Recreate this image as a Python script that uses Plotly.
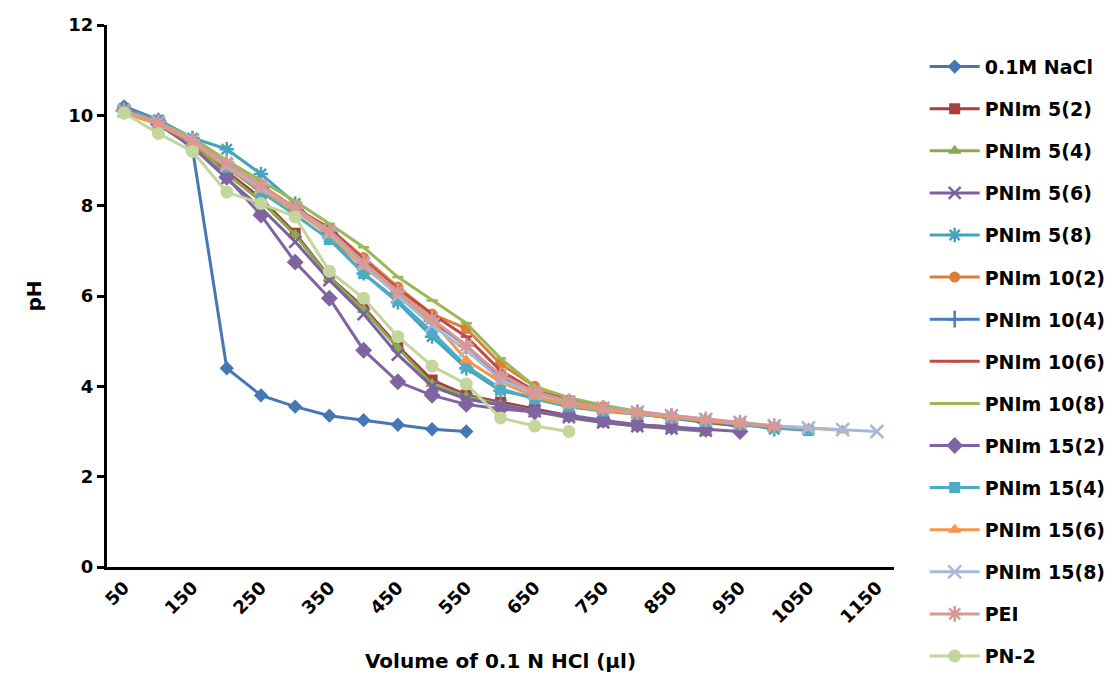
import plotly.graph_objects as go

categories = list(range(50, 1151, 50))
x_tick_labels = ["50", "150", "250", "350", "450", "550", "650", "750", "850", "950", "1050", "1150"]
x_tick_vals = [50, 150, 250, 350, 450, 550, 650, 750, 850, 950, 1050, 1150]

nacl = [10.2, 9.9, 9.25, 4.4, 3.8, 3.55, 3.35, 3.25, 3.15, 3.05, 3.0]
pnim_5_2 = [10.1, 9.85, 9.35, 8.75, 8.16, 7.39, 6.42, 5.75, 4.89, 4.14, 3.81, 3.65, 3.5, 3.35, 3.22, 3.15, 3.1, 3.03]
pnim_5_4 = [10.15, 9.85, 9.4, 8.7, 8.1, 7.35, 6.4, 5.7, 4.85, 4.05, 3.78, 3.6, 3.45, 3.3, 3.2, 3.12, 3.06, 3.0]
pnim_5_6 = [10.1, 9.8, 9.3, 8.6, 7.95, 7.2, 6.35, 5.6, 4.7, 4.0, 3.72, 3.58, 3.45, 3.32, 3.2, 3.12, 3.07, 3.02]
pnim_5_8 = [10.15, 9.9, 9.5, 9.25, 8.7, 8.05, 7.3, 6.5, 5.86, 5.1, 4.4, 3.9, 3.75, 3.6, 3.5, 3.42, 3.35, 3.25, 3.18, 3.05]
pnim_10_2 = [10.1, 9.85, 9.45, 8.9, 8.45, 7.95, 7.5, 6.85, 6.2, 5.6, 5.28, 4.5, 4.0, 3.7, 3.55, 3.42, 3.32, 3.22, 3.12]
pnim_10_4 = [10.1, 9.85, 9.45, 8.9, 8.4, 7.9, 7.4, 6.7, 6.05, 5.45, 4.9, 4.2, 3.85, 3.65, 3.5, 3.4, 3.3, 3.2, 3.12]
pnim_10_6 = [10.1, 9.85, 9.45, 8.95, 8.45, 7.95, 7.5, 6.8, 6.15, 5.6, 5.1, 4.35, 3.9, 3.7, 3.55, 3.42, 3.32, 3.22, 3.12]
pnim_10_8 = [10.1, 9.85, 9.5, 9.0, 8.55, 8.1, 7.6, 7.08, 6.42, 5.9, 5.4, 4.62, 4.0, 3.75, 3.58, 3.45, 3.35, 3.25, 3.15]
pnim_15_2 = [10.1, 9.8, 9.3, 8.63, 7.79, 6.75, 5.95, 4.8, 4.1, 3.8, 3.6, 3.5, 3.43, 3.36, 3.25, 3.15, 3.1, 3.05, 3.0]
pnim_15_4 = [10.1, 9.85, 9.4, 8.85, 8.3, 7.8, 7.25, 6.5, 5.9, 5.2, 4.45, 3.95, 3.72, 3.55, 3.45, 3.38, 3.3, 3.22, 3.15, 3.08, 3.02]
pnim_15_6 = [10.05, 9.8, 9.4, 8.85, 8.35, 7.9, 7.35, 6.64, 6.06, 5.46, 4.58, 4.1, 3.77, 3.58, 3.47, 3.4, 3.32, 3.24, 3.17, 3.12, 3.07, 3.03]
pnim_15_8 = [10.1, 9.85, 9.45, 8.9, 8.4, 7.95, 7.4, 6.7, 6.0, 5.35, 4.8, 4.15, 3.85, 3.65, 3.52, 3.43, 3.35, 3.27, 3.2, 3.13, 3.08, 3.04, 3.0]
pei = [10.1, 9.85, 9.45, 8.95, 8.45, 7.95, 7.45, 6.75, 6.1, 5.5, 4.9, 4.25, 3.88, 3.67, 3.52, 3.43, 3.35, 3.27, 3.2, 3.12]
pn_2 = [10.05, 9.6, 9.2, 8.3, 8.05, 7.75, 6.55, 5.95, 5.1, 4.45, 4.05, 3.3, 3.12, 3.0]

series = [
    ("0.1M NaCl", nacl, "#4677B4", "diamond", 11),
    ("PNIm 5(2)", pnim_5_2, "#A5403D", "square", 11),
    ("PNIm 5(4)", pnim_5_4, "#8BAA4E", "triangle-up", 12),
    ("PNIm 5(6)", pnim_5_6, "#7D60A0", "x-thin-open", 12),
    ("PNIm 5(8)", pnim_5_8, "#46A3BE", "asterisk-open", 12),
    ("PNIm 10(2)", pnim_10_2, "#DB8037", "circle", 11),
    ("PNIm 10(4)", pnim_10_4, "#4A7EBB", "cross-thin-open", 12),
    ("PNIm 10(6)", pnim_10_6, "#BE4B48", "line-ew-open", 8),
    ("PNIm 10(8)", pnim_10_8, "#98B954", "line-ew-open", 8),
    ("PNIm 15(2)", pnim_15_2, "#8064A2", "diamond", 13),
    ("PNIm 15(4)", pnim_15_4, "#4BACC6", "square", 11),
    ("PNIm 15(6)", pnim_15_6, "#F79646", "triangle-up", 12),
    ("PNIm 15(8)", pnim_15_8, "#A7B9DA", "x-thin-open", 13),
    ("PEI", pei, "#D99795", "asterisk-open", 13),
    ("PN-2", pn_2, "#C3D69B", "circle", 13),
]

fig = go.Figure()
for i, (name, vals, color, sym, size) in enumerate(series):
    fig.add_trace(go.Scatter(
        x=categories[:len(vals)], y=vals, name=name, mode="lines+markers",
        legendgroup=f"g{i}",
        line=dict(color=color, width=3),
        marker=dict(symbol=sym, size=size, color=color,
                    line=dict(color=color, width=2.5 if "open" in sym else 0)),
    ))

font_family = "DejaVu Sans, Arial, sans-serif"
title_font = dict(family=font_family, size=20, color="black", weight="bold")
legend_font = dict(family=font_family, size=19, color="black", weight="bold")
tick_font = dict(family=font_family, size=18, color="black", weight="bold")

fig.update_layout(
    width=1117, height=688,
    margin=dict(l=99, r=231, t=17, b=129, autoexpand=False),
    paper_bgcolor="white", plot_bgcolor="white",
    font=title_font,
    legend=dict(x=1.039, y=0.958, xanchor="left", yanchor="top",
                font=legend_font, tracegroupgap=14.4, itemwidth=50, maxheight=680),
    showlegend=True,
)
fig.update_xaxes(
    range=[25, 1175], tickvals=x_tick_vals, ticktext=x_tick_labels, tickangle=-45,
    showgrid=False, zeroline=False, showline=True, linecolor="black", linewidth=3,
    ticks="", tickfont=tick_font, automargin=False,
    title=dict(text="Volume of 0.1 N HCl (μl)", standoff=28, font=title_font),
)
fig.update_yaxes(
    range=[0, 12], tickvals=[0, 2, 4, 6, 8, 10, 12], showgrid=False, zeroline=False,
    showline=True, linecolor="black", linewidth=3, ticks="outside", ticklen=7, tickwidth=3,
    tickcolor="black", tickfont=tick_font, automargin=False,
    title=dict(text="pH", standoff=22, font=title_font),
)
fig.write_html("out.html")
